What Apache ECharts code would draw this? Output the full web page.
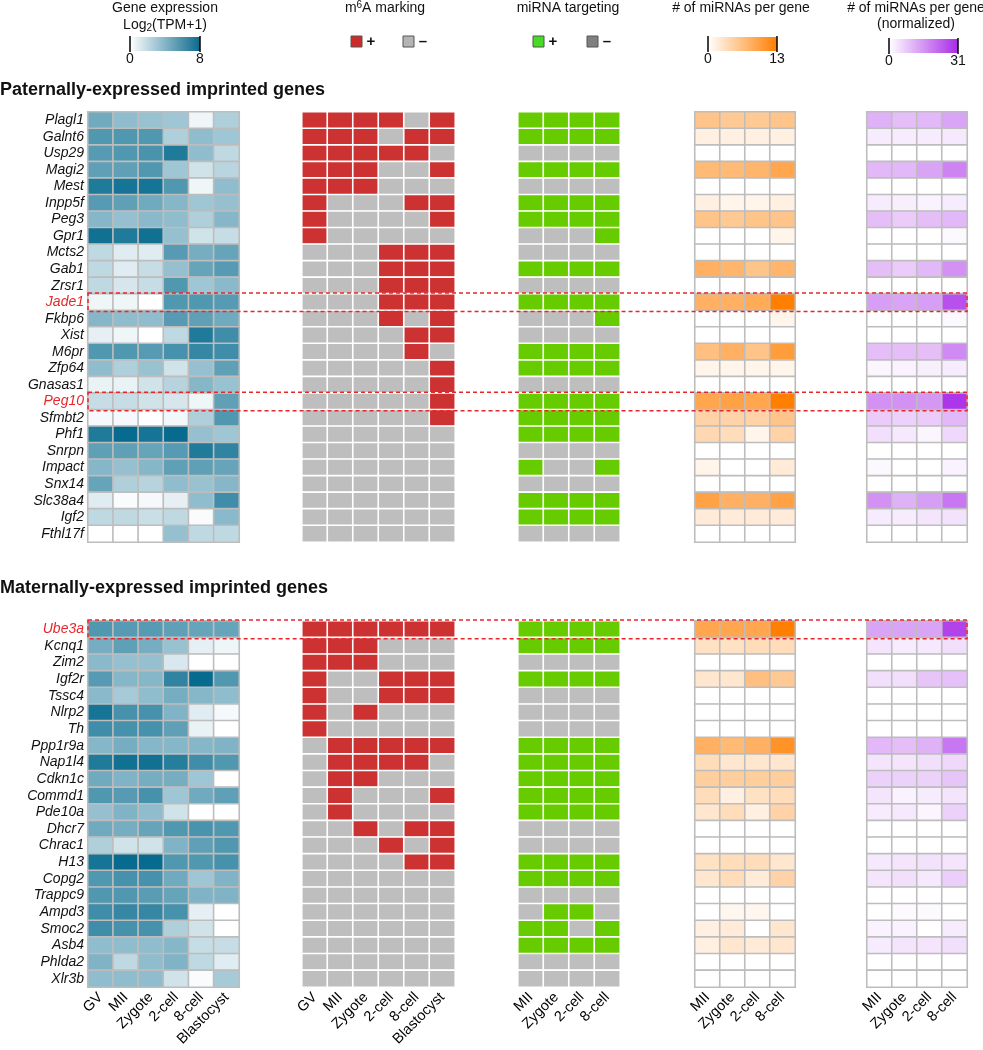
<!DOCTYPE html>
<html>
<head>
<meta charset="utf-8">
<title>Imprinted genes</title>
<script src="https://cdn.jsdelivr.net/npm/echarts@6/dist/echarts.min.js"></script>
<style>
  body { margin: 0; background: #fff; }
  #main { width: 983px; height: 1050px; }
</style>
</head>
<body>
<div id="main"></div>
<script>
// stages
var stages6 = ['GV', 'MII', 'Zygote', '2-cell', '8-cell', 'Blastocyst'];
var stages4 = ['MII', 'Zygote', '2-cell', '8-cell'];

// genes
var patGenes = ['Plagl1', 'Galnt6', 'Usp29', 'Magi2', 'Mest', 'Inpp5f', 'Peg3', 'Gpr1', 'Mcts2', 'Gab1',
  'Zrsr1', 'Jade1', 'Fkbp6', 'Xist', 'M6pr', 'Zfp64', 'Gnasas1', 'Peg10', 'Sfmbt2', 'Phf1',
  'Snrpn', 'Impact', 'Snx14', 'Slc38a4', 'Igf2', 'Fthl17f'];
var matGenes = ['Ube3a', 'Kcnq1', 'Zim2', 'Igf2r', 'Tssc4', 'Nlrp2', 'Th', 'Ppp1r9a', 'Nap1l4', 'Cdkn1c',
  'Commd1', 'Pde10a', 'Dhcr7', 'Chrac1', 'H13', 'Copg2', 'Trappc9', 'Ampd3', 'Smoc2', 'Asb4',
  'Phlda2', 'Xlr3b'];
var highlightGenes = ['Jade1', 'Peg10', 'Ube3a'];

// gene expression, log2(TPM+1)
var patExpr = [
  [4.5, 3.5, 3.2, 3.0, 0.5, 2.5], [5.5, 5.5, 5.5, 2.5, 3.5, 3.0], [5.3, 5.5, 5.7, 7.0, 3.5, 2.0],
  [5.0, 5.0, 5.5, 3.0, 1.5, 2.2], [7.0, 7.3, 7.3, 5.5, 0.5, 3.5], [5.3, 5.0, 4.5, 3.8, 3.0, 3.3],
  [3.8, 3.3, 3.7, 3.5, 2.5, 3.8], [7.5, 7.0, 7.5, 3.3, 1.5, 1.8], [2.0, 1.0, 1.0, 5.3, 4.3, 4.8],
  [2.0, 1.0, 1.8, 3.3, 4.8, 5.3], [2.0, 1.3, 1.8, 5.5, 3.0, 3.7], [0.5, 0.5, 0.0, 5.5, 5.5, 5.3],
  [3.8, 3.5, 3.5, 5.3, 5.0, 4.5], [0.8, 0.5, 0.0, 2.0, 7.0, 6.0], [5.5, 5.5, 5.3, 5.8, 6.3, 6.0],
  [3.5, 2.5, 3.2, 1.5, 3.3, 5.0], [0.7, 0.7, 1.5, 2.3, 3.8, 3.2], [1.8, 1.8, 1.5, 1.3, 0.5, 5.0],
  [0.3, 0.3, 0.0, 0.4, 2.5, 5.5], [7.0, 7.8, 7.3, 7.8, 3.3, 3.0], [5.0, 5.0, 4.8, 5.3, 7.0, 6.5],
  [3.8, 3.3, 3.8, 5.0, 5.0, 4.8], [4.8, 2.5, 2.3, 3.5, 3.2, 3.8], [1.0, 0.2, 0.3, 0.8, 3.5, 6.0],
  [2.0, 2.0, 1.7, 2.0, 0.2, 3.7], [0.0, 0.0, 0.0, 3.3, 2.0, 2.0]
];
var matExpr = [
  [5.5, 5.3, 5.3, 5.0, 4.8, 4.8], [4.3, 5.0, 4.3, 3.2, 0.8, 0.5], [3.7, 3.3, 3.3, 1.2, 0.0, 0.0],
  [5.3, 3.8, 3.8, 6.5, 7.8, 5.5], [3.7, 2.8, 3.5, 4.3, 3.8, 3.5], [7.3, 5.8, 5.8, 4.0, 1.0, 0.3],
  [6.0, 5.8, 5.8, 5.0, 0.7, 0.0], [3.8, 4.3, 3.8, 3.8, 3.8, 4.0], [7.0, 7.5, 7.5, 6.8, 6.0, 5.5],
  [4.5, 4.0, 4.3, 4.3, 3.0, 0.0], [5.5, 5.3, 5.8, 3.0, 4.5, 5.0], [3.3, 4.0, 3.5, 1.5, 0.0, 0.0],
  [4.5, 4.3, 4.8, 5.5, 5.7, 5.5], [2.5, 1.5, 1.5, 4.0, 5.0, 5.5], [7.3, 7.8, 7.8, 5.5, 5.5, 5.8],
  [5.5, 5.8, 5.8, 4.5, 3.0, 4.0], [5.5, 5.5, 5.2, 4.8, 4.0, 4.0], [6.0, 6.3, 6.3, 5.8, 0.8, 0.0],
  [6.0, 5.8, 5.8, 2.5, 1.5, 0.0], [3.5, 3.5, 3.5, 3.8, 1.8, 1.8], [4.0, 2.0, 3.5, 4.0, 2.0, 1.0],
  [3.5, 3.5, 3.5, 1.5, 0.2, 2.8]
];

// m6A marking (1 = +, 0 = -)
var patM6A = [
  [1, 1, 1, 1, 0, 1], [1, 1, 1, 0, 1, 1], [1, 1, 1, 1, 1, 0], [1, 1, 1, 0, 0, 1], [1, 1, 1, 0, 0, 0],
  [1, 0, 0, 0, 1, 1], [1, 0, 0, 0, 0, 1], [1, 0, 0, 0, 0, 0], [0, 0, 0, 1, 1, 1], [0, 0, 0, 1, 1, 1],
  [0, 0, 0, 1, 1, 1], [0, 0, 0, 1, 1, 1], [0, 0, 0, 1, 0, 1], [0, 0, 0, 0, 1, 1], [0, 0, 0, 0, 1, 0],
  [0, 0, 0, 0, 0, 1], [0, 0, 0, 0, 0, 1], [0, 0, 0, 0, 0, 1], [0, 0, 0, 0, 0, 1], [0, 0, 0, 0, 0, 0],
  [0, 0, 0, 0, 0, 0], [0, 0, 0, 0, 0, 0], [0, 0, 0, 0, 0, 0], [0, 0, 0, 0, 0, 0], [0, 0, 0, 0, 0, 0],
  [0, 0, 0, 0, 0, 0]
];
var matM6A = [
  [1, 1, 1, 1, 1, 1], [1, 1, 1, 0, 0, 0], [1, 1, 1, 0, 0, 0], [1, 0, 0, 1, 1, 1], [1, 0, 0, 1, 1, 1],
  [1, 0, 1, 0, 0, 0], [1, 0, 0, 0, 0, 0], [0, 1, 1, 1, 1, 1], [0, 1, 1, 1, 1, 0], [0, 1, 1, 0, 0, 0],
  [0, 1, 0, 0, 0, 1], [0, 1, 0, 0, 0, 0], [0, 0, 1, 0, 1, 1], [0, 0, 0, 1, 0, 1], [0, 0, 0, 0, 1, 1],
  [0, 0, 0, 0, 0, 0], [0, 0, 0, 0, 0, 0], [0, 0, 0, 0, 0, 0], [0, 0, 0, 0, 0, 0], [0, 0, 0, 0, 0, 0],
  [0, 0, 0, 0, 0, 0], [0, 0, 0, 0, 0, 0]
];

// miRNA targeting (1 = +, 0 = -)
var patMirT = [
  [1, 1, 1, 1], [1, 1, 1, 1], [0, 0, 0, 0], [1, 1, 1, 1], [0, 0, 0, 0], [1, 1, 1, 1], [1, 1, 1, 1],
  [0, 0, 0, 1], [0, 0, 0, 0], [1, 1, 1, 1], [0, 0, 0, 0], [1, 1, 1, 1], [0, 0, 0, 1], [0, 0, 0, 0],
  [1, 1, 1, 1], [1, 1, 1, 1], [0, 0, 0, 0], [1, 1, 1, 1], [1, 1, 1, 1], [1, 1, 1, 1], [0, 0, 0, 0],
  [1, 0, 0, 1], [0, 0, 0, 0], [1, 1, 1, 1], [1, 1, 1, 1], [0, 0, 0, 0]
];
var matMirT = [
  [1, 1, 1, 1], [1, 1, 1, 1], [0, 0, 0, 0], [1, 1, 1, 1], [0, 0, 0, 0], [0, 0, 0, 0], [0, 0, 0, 0],
  [1, 1, 1, 1], [1, 1, 1, 1], [1, 1, 1, 1], [1, 1, 1, 1], [1, 1, 1, 1], [0, 0, 0, 0], [0, 0, 0, 0],
  [1, 1, 1, 1], [1, 1, 1, 1], [0, 0, 0, 0], [0, 1, 1, 0], [1, 1, 0, 1], [1, 1, 1, 1], [0, 0, 0, 0],
  [0, 0, 0, 0]
];

// # of miRNAs per gene
var patMirN = [
  [6, 5.5, 5.5, 6], [1.5, 1.5, 1.5, 1.5], [0, 0, 0, 0], [7, 7, 7.5, 9], [0, 0, 0, 0], [1.5, 1, 1, 1.5],
  [6, 5.5, 6, 6], [0, 0, 0, 1], [0, 0, 0, 0], [8, 7.5, 6, 7.5], [0, 0, 0, 0], [8, 8, 8.5, 13],
  [0, 0, 0, 1], [0, 0, 0, 0], [6.5, 8, 6, 10], [1, 1, 1, 1], [0, 0, 0, 0], [9, 9.5, 9, 13],
  [4.5, 4.5, 4.5, 6], [4, 3.5, 1, 4.5], [0, 0, 0, 0], [1, 0, 0, 2], [0, 0, 0, 0], [9.5, 8, 8, 9.5],
  [2, 2, 2, 2], [0, 0, 0, 0]
];
var matMirN = [
  [9, 9, 9, 13], [3, 3, 3.5, 3.5], [0, 0, 0, 0], [2.5, 2.5, 6.5, 5.5], [0, 0, 0, 0], [0, 0, 0, 0],
  [0, 0, 0, 0], [8, 7, 8, 11], [3.5, 2.5, 2.5, 2.5], [5, 5, 5, 5], [3.5, 1.5, 3, 3.5],
  [2.5, 3.5, 1.5, 4.5], [0, 0, 0, 0], [0, 0, 0, 0], [3, 3.5, 3.5, 2.5], [2.5, 3.5, 2, 4.5],
  [0, 0, 0, 0], [0, 0.8, 0.8, 0], [1.5, 2, 0, 2.5], [1.5, 2.5, 2, 2.5], [0, 0, 0, 0], [0, 0, 0, 0]
];

// # of miRNAs per gene (normalized)
var patMirNorm = [
  [12, 10, 11, 14], [3, 3, 3, 3.5], [0, 0, 0, 0], [11, 11, 14, 19], [0, 0, 0, 0], [3, 2.5, 2, 3],
  [10, 8, 10, 11], [0, 0, 0, 1], [0, 0, 0, 0], [10, 8, 11, 17], [0, 0, 0, 0], [15, 14, 15, 27],
  [0, 0, 0, 1], [0, 0, 0, 0], [10, 10, 10, 18], [1.5, 2, 2.5, 3], [0, 0, 0, 0], [17, 17, 16, 31],
  [8, 7, 8, 11], [5, 3.5, 1.5, 6], [0, 0, 0, 0], [1, 0, 0, 2], [0, 0, 0, 0], [17, 12, 15, 21],
  [3, 3, 4, 4.5], [0, 0, 0, 0]
];
var matMirNorm = [
  [14, 14, 14, 29], [4, 3, 3.5, 5], [0, 0, 0, 0], [5, 5, 9, 9.5], [0, 0, 0, 0], [0, 0, 0, 0],
  [0, 0, 0, 0], [11, 10, 12, 21], [4, 4, 5, 6], [7, 7, 7, 9], [4, 2, 3, 4], [3, 3.5, 1.5, 7],
  [0, 0, 0, 0], [0, 0, 0, 0], [3.5, 4, 4.5, 4], [4, 5, 3.5, 7.5], [0, 0, 0, 0], [0, 0.8, 0.8, 0],
  [2, 2, 0, 3], [3, 4, 4, 5], [0, 0, 0, 0], [0, 0, 0, 0]
];

// colour scale limits
var exprMax = 8, mirNMax = 13, mirNormMax = 31;

var FONT = '"Liberation Sans", Arial, sans-serif';
var RED = '#e8262a';

function toCells(matrix) {
  var out = [];
  matrix.forEach(function (row, i) {
    row.forEach(function (v, j) { out.push([j, i, v]); });
  });
  return out;
}

var panelLeft = [88, 302, 518, 695, 867];
var panelWidth = [151, 153, 102, 100, 100];
var sectionTop = [112, 621];
var sectionHeight = [430, 366];
var sections = [
  { genes: patGenes, data: [patExpr, patM6A, patMirT, patMirN, patMirNorm] },
  { genes: matGenes, data: [matExpr, matM6A, matMirT, matMirN, matMirNorm] }
];
var panelBorder = ['#bdbdbd', '#ffffff', '#ffffff', '#bdbdbd', '#bdbdbd'];

var grids = [], xAxes = [], yAxes = [], series = [], visualMaps = [];

sections.forEach(function (sec, s) {
  sec.data.forEach(function (mat, p) {
    var g = s * 5 + p;
    grids.push({ left: panelLeft[p], top: sectionTop[s], width: panelWidth[p], height: sectionHeight[s] });
    xAxes.push({
      type: 'category', gridIndex: g, data: p < 2 ? stages6 : stages4,
      axisLine: { show: false }, axisTick: { show: false }, splitLine: { show: false },
      axisLabel: { show: s === 1, rotate: 45, fontSize: 14.5, fontFamily: FONT, color: '#000', margin: 8, interval: 0 }
    });
    yAxes.push({
      type: 'category', gridIndex: g, inverse: true, show: p === 0,
      data: sec.genes.map(function (name) {
        return highlightGenes.indexOf(name) >= 0 ? { value: name, textStyle: { color: RED } } : name;
      }),
      axisLine: { show: false }, axisTick: { show: false }, splitLine: { show: false },
      axisLabel: { fontSize: 14, fontStyle: 'italic', fontFamily: FONT, color: '#111', margin: 4, interval: 0 }
    });
    series.push({
      type: 'heatmap', xAxisIndex: g, yAxisIndex: g, data: toCells(mat),
      itemStyle: { borderColor: panelBorder[p], borderWidth: 1.6 },
      emphasis: { disabled: true }
    });
    if (p === 0) {
      visualMaps.push({ type: 'continuous', seriesIndex: g, min: 0, max: exprMax, show: false,
        inRange: { color: ['#ffffff', '#00678c'] } });
    } else if (p === 1) {
      visualMaps.push({ type: 'piecewise', seriesIndex: g, show: false,
        pieces: [{ value: 1, color: '#cd3232' }, { value: 0, color: '#bebebe' }] });
    } else if (p === 2) {
      visualMaps.push({ type: 'piecewise', seriesIndex: g, show: false,
        pieces: [{ value: 1, color: '#66cc00' }, { value: 0, color: '#bebebe' }] });
    } else if (p === 3) {
      visualMaps.push({ type: 'continuous', seriesIndex: g, min: 0, max: mirNMax, show: false,
        inRange: { color: ['#ffffff', '#ff7f00'] } });
    } else {
      visualMaps.push({ type: 'continuous', seriesIndex: g, min: 0, max: mirNormMax, show: false,
        inRange: { color: ['#ffffff', '#ad36ea'] } });
    }
  });
});

var myChart = echarts.init(document.getElementById('main'));
myChart.setOption({
  animation: false,
  grid: grids,
  xAxis: xAxes,
  yAxis: yAxes,
  visualMap: visualMaps,
  series: series
});

// legend + titles
function txt(x, y, text, opts) {
  opts = opts || {};
  return {
    type: 'text', x: x, y: y, silent: true,
    style: {
      text: text, fill: '#111', font: (opts.bold ? 'bold ' : '') + (opts.size || 14) + 'px ' + FONT,
      align: opts.align || 'center', verticalAlign: 'middle', rich: opts.rich
    }
  };
}
function colorBar(x, y, w, c1, c2, lo, hi) {
  return [
    { type: 'rect', silent: true, shape: { x: x, y: y, width: w, height: 14 },
      style: { fill: new echarts.graphic.LinearGradient(0, 0, 1, 0, [{ offset: 0, color: c1 }, { offset: 1, color: c2 }]) } },
    { type: 'line', silent: true, shape: { x1: x, y1: y - 1, x2: x, y2: y + 15 }, style: { stroke: '#000', lineWidth: 1.5 } },
    { type: 'line', silent: true, shape: { x1: x + w, y1: y - 1, x2: x + w, y2: y + 15 }, style: { stroke: '#000', lineWidth: 1.5 } },
    txt(x, y + 22, lo, { size: 14 }),
    txt(x + w, y + 22, hi, { size: 14 })
  ];
}
function swatch(x, y, fill, sign) {
  return [
    { type: 'rect', silent: true, shape: { x: x, y: y, width: 11, height: 11 },
      style: { fill: fill, stroke: '#555', lineWidth: 1 } },
    txt(x + 20, y + 5.5, sign, { size: 15, bold: true })
  ];
}
var subRich = { a: { fontSize: 14, fontFamily: FONT, fill: '#111' },
  sub: { fontSize: 10, fontFamily: FONT, fill: '#111', verticalAlign: 'bottom', lineHeight: 17 },
  sup: { fontSize: 10, fontFamily: FONT, fill: '#111', verticalAlign: 'top', lineHeight: 15 } };

var graphics = [].concat(
  txt(165, 8, 'Gene expression'),
  txt(165, 25, '{a|Log}{sub|2}{a|(TPM+1)}', { rich: subRich }),
  colorBar(130, 37, 70, '#ffffff', '#0b6a8d', '0', '8'),
  txt(385, 8, '{a|m}{sup|6}{a|A marking}', { rich: subRich }),
  swatch(351, 36, '#cd2a2a', '+'),
  swatch(403, 36, '#b4b4b4', '\u2013'),
  txt(568, 8, 'miRNA targeting'),
  swatch(533, 36, '#44dd22', '+'),
  swatch(587, 36, '#808080', '\u2013'),
  txt(741, 8, '# of miRNAs per gene'),
  colorBar(708, 37, 69, '#ffffff', '#ff7f00', '0', '13'),
  txt(916, 8, '# of miRNAs per gene'),
  txt(916, 24, '(normalized)'),
  colorBar(889, 39, 69, '#ffffff', '#a92be8', '0', '31'),
  txt(0, 90, 'Paternally-expressed imprinted genes', { size: 18, bold: true, align: 'left' }),
  txt(0, 588, 'Maternally-expressed imprinted genes', { size: 18, bold: true, align: 'left' })
);

// dashed boxes around highlighted genes, positioned from the axes
sections.forEach(function (sec, s) {
  highlightGenes.forEach(function (name) {
    var i = sec.genes.indexOf(name);
    if (i < 0) return;
    var gFirst = s * 5, gLast = s * 5 + 4;
    var a = myChart.convertToPixel({ gridIndex: gFirst }, [0, i]);
    var b = myChart.convertToPixel({ gridIndex: gFirst }, [1, i + 1]);
    var c = myChart.convertToPixel({ gridIndex: gLast }, [3, i]);
    var d = myChart.convertToPixel({ gridIndex: gLast }, [2, i]);
    var bandX0 = b[0] - a[0], bandY = b[1] - a[1], bandX4 = c[0] - d[0];
    var x0 = a[0] - bandX0 / 2, x1 = c[0] + bandX4 / 2;
    var y0 = a[1] - bandY / 2 - 1, y1 = a[1] + bandY / 2 + 1;
    graphics.push({
      type: 'rect', silent: true, z: 100,
      shape: { x: x0, y: y0, width: x1 - x0, height: y1 - y0 },
      style: { fill: 'none', stroke: RED, lineWidth: 1.5, lineDash: [4, 3] }
    });
  });
});

myChart.setOption({ graphic: graphics });
</script>
</body>
</html>
